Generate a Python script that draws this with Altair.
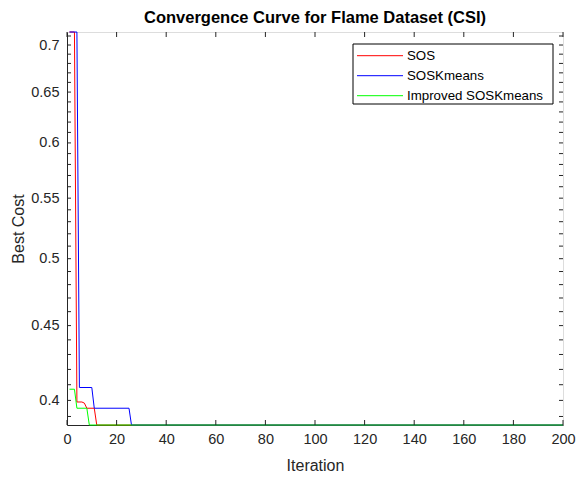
import altair as alt
import pandas as pd

# ---- data ----
iter_sos = [1, 3, 4, 6, 7, 8, 11, 12, 200]
cost_sos = [0.7145, 0.7145, 0.3990, 0.3990, 0.3983, 0.3951, 0.3951, 0.3848, 0.3848]

iter_soskm = [1, 4, 5, 10, 11, 25, 26, 200]
cost_soskm = [0.7145, 0.7145, 0.4082, 0.4082, 0.3951, 0.3951, 0.3848, 0.3848]

iter_imp = [1, 3, 4, 8, 9, 200]
cost_imp = [0.4071, 0.4071, 0.3951, 0.3951, 0.3848, 0.3848]

series_names = ["SOS", "SOSKmeans", "Improved SOSKmeans"]
series_colors = ["#ff0000", "#0000ff", "#00ff00"]

x_ticks = [0, 20, 40, 60, 80, 100, 120, 140, 160, 180, 200]
y_labels = [0.4, 0.45, 0.5, 0.55, 0.6, 0.65, 0.7]
y_minor = [0.39, 0.40, 0.41, 0.42, 0.43, 0.44, 0.45, 0.46, 0.47, 0.48, 0.49,
           0.50, 0.51, 0.52, 0.53, 0.54, 0.55, 0.56, 0.57, 0.58, 0.59, 0.60,
           0.61, 0.62, 0.63, 0.64, 0.65, 0.66, 0.67, 0.68, 0.69, 0.70, 0.71]
y_domain = [0.3848, 0.7145]
x_domain = [0, 200]

# ---- tables ----
rows = []
for name, its, cs in zip(series_names, [iter_sos, iter_soskm, iter_imp],
                         [cost_sos, cost_soskm, cost_imp]):
    for i, c in zip(its, cs):
        rows.append({"series": name, "iteration": i, "cost": c})
df = pd.DataFrame(rows)

W, H = 496, 393
FONT = "Liberation Sans"
AX = "#262626"

xscale = alt.Scale(domain=x_domain, nice=False, zero=False)
yscale = alt.Scale(type="log", domain=y_domain, nice=False, zero=False)
cscale = alt.Scale(domain=series_names, range=series_colors)

xaxis = alt.Axis(values=x_ticks, format="d", title="Iteration",
                 ticks=False, tickSize=0, grid=False,
                 labelPadding=7, labelFontSize=14.5, labelFont=FONT,
                 labelColor=AX, domainColor=AX, titleFont=FONT,
                 titleFontSize=16, titleFontWeight="normal",
                 titleColor=AX, titleY=45, titleBaseline="alphabetic",
                 labelFlush=False)
yaxis = alt.Axis(values=y_labels, format="~g", title="Best Cost",
                 ticks=False, tickSize=0, grid=False,
                 labelPadding=8, labelFontSize=14.5, labelFont=FONT,
                 labelColor=AX, domainColor=AX, titleFont=FONT,
                 titleFontSize=16, titleFontWeight="normal",
                 titleColor=AX, titlePadding=4, labelFlush=False)

lines = alt.Chart(df).mark_line(strokeWidth=1).encode(
    x=alt.X("iteration:Q", scale=xscale, axis=xaxis),
    y=alt.Y("cost:Q", scale=yscale, axis=yaxis),
    color=alt.Color("series:N", scale=cscale, legend=None),
    detail="series:N",
)

ytick_df = pd.DataFrame({"cost": y_minor})
xtick_df = pd.DataFrame({"iteration": x_ticks})

ytick_left = alt.Chart(ytick_df).mark_rule(color=AX, strokeWidth=1).encode(
    y=alt.Y("cost:Q", scale=yscale, axis=yaxis), x=alt.value(0), x2=alt.value(4))
ytick_right = alt.Chart(ytick_df).mark_rule(color=AX, strokeWidth=1).encode(
    y=alt.Y("cost:Q", scale=yscale, axis=yaxis), x=alt.value(W), x2=alt.value(W - 4))
xtick_bot = alt.Chart(xtick_df).mark_rule(color=AX, strokeWidth=1).encode(
    x=alt.X("iteration:Q", scale=xscale, axis=xaxis), y=alt.value(H), y2=alt.value(H - 5))
xtick_top = alt.Chart(xtick_df).mark_rule(color=AX, strokeWidth=1).encode(
    x=alt.X("iteration:Q", scale=xscale, axis=xaxis), y=alt.value(0), y2=alt.value(5))

# ---- legend box (layout only) ----
one = pd.DataFrame({"k": [0]})
box = alt.Chart(one).mark_rect(
    fill="white", stroke="black", strokeWidth=1).encode(
    x=alt.value(286), x2=alt.value(486), y=alt.value(12), y2=alt.value(72))
leg_layers = []
for name, col, ly in zip(series_names, series_colors, [23.7, 43.7, 63.7]):
    d = pd.DataFrame({"series": [name]})
    leg_layers.append(alt.Chart(d).mark_rule(strokeWidth=1, color=col).encode(
        x=alt.value(290), x2=alt.value(336), y=alt.value(ly)))
    leg_layers.append(alt.Chart(d).mark_text(
        align="left", baseline="middle", fontSize=13.3, font=FONT,
        color="black").encode(x=alt.value(340), y=alt.value(ly), text="series:N"))

chart = alt.layer(
    lines, ytick_left, ytick_right, xtick_bot, xtick_top, box, *leg_layers
).properties(
    width=W, height=H,
    title=alt.TitleParams("Convergence Curve for Flame Dataset (CSI)",
                          fontSize=16.5, font=FONT, fontWeight="bold",
                          color="black", anchor="middle", offset=4),
    autosize=alt.AutoSizeParams(type="none"),
    padding={"left": 67, "top": 32, "right": 16, "bottom": 52},
).configure_view(stroke=AX, strokeWidth=1).configure(background="white")

chart.save("out.html", embed_options={"renderer": "svg", "actions": False})
